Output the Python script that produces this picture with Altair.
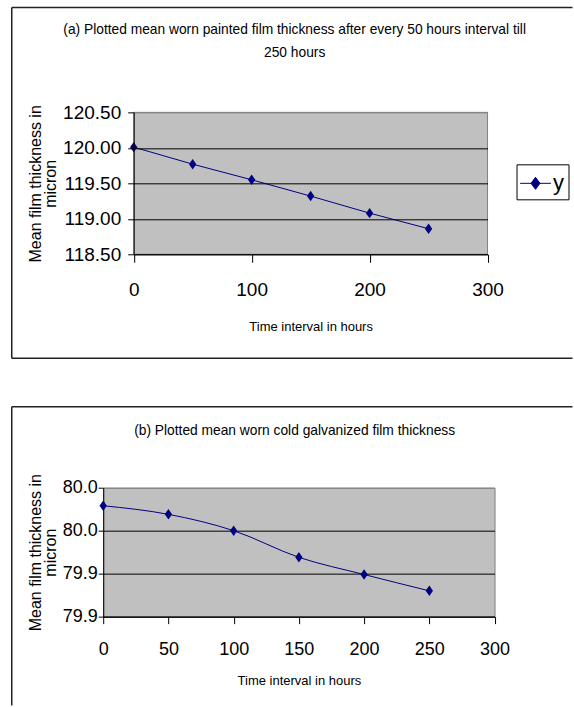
import altair as alt
import pandas as pd

# ---- data ----
hours = [0, 50, 100, 150, 200, 250]
painted = [120.01, 119.77, 119.55, 119.32, 119.08, 118.86]
galvanized = [79.979, 79.969, 79.950, 79.919, 79.899, 79.880]
series_name = "y"

ticks_a_x = [0, 100, 200, 300]
ticks_a_y = [118.5, 119.0, 119.5, 120.0, 120.5]
ticks_b_x = [0, 50, 100, 150, 200, 250, 300]
ticks_b_y = [79.85, 79.90, 79.95, 80.00]
x_domain = [0, 300]
ydom_a = [118.5, 120.5]
ydom_b = [79.85, 80.0]

title_a = ["(a) Plotted mean worn painted film thickness after every 50 hours interval till",
           "250 hours"]
title_b = ["(b) Plotted mean worn cold galvanized film thickness"]
x_title = "Time interval in hours"
y_title = ["Mean film thickness in", "micron"]

# ---- style ----
FONT = "Liberation Sans, Arial, sans-serif"
NAVY = "#000080"
FRAME = "#222222"
PLOT_BG = "#C0C0C0"
PLOT_BORDER = "#808080"
DIAMOND = "M0,-1L0.7,0L0,1L-0.7,0Z"
LEG_SYM = "M-1.1,0L1.1,0M0,-0.43L0.32,0L0,0.43L-0.32,0Z"

one = alt.Data(values=[{}])


def hrule(x, x2, y):
    return alt.Chart(one).mark_rule(color=FRAME, strokeWidth=1.5).encode(
        x=alt.value(x), x2=alt.value(x2), y=alt.value(y))


def vrule(x, y, y2):
    return alt.Chart(one).mark_rule(color=FRAME, strokeWidth=1.5).encode(
        x=alt.value(x), y=alt.value(y), y2=alt.value(y2))


def title_text(line, x, y, fs):
    return alt.Chart(one).mark_text(text=line, font=FONT, fontSize=fs, color="black",
                                    align="center", baseline="middle").encode(
        x=alt.value(x), y=alt.value(y))


def panel(values, W, H, x_range, yticks_, xticks_, ydom, ylab_fmt, top_grey, tick_fs,
          xtick, xlab_pad, ytick, ylab_pad, xtitle_y, ytitle_x, leg, interp, frame,
          titles, title_fs, own_bg):
    df = pd.DataFrame({"hours": hours, "value": values, "series": [series_name] * len(hours)})
    yoff = -x_range[0] if x_range else 0
    if x_range:
        xscale = alt.Scale(domain=x_domain, nice=False, zero=False, range=x_range)
    else:
        xscale = alt.Scale(domain=x_domain, nice=False, zero=False)
    z = 1 if own_bg else 0
    x = alt.X("hours:Q", scale=xscale,
              axis=alt.Axis(values=xticks_, grid=False, tickSize=xtick, tickColor="black",
                            domainColor="black", labelFont=FONT, labelFontSize=tick_fs,
                            labelColor="black", labelPadding=xlab_pad, labelFlush=False,
                            labelOverlap=False, title=x_title, titleFont=FONT,
                            titleFontSize=13, titleFontWeight="normal", titleColor="black",
                            titleY=xtitle_y, titleBaseline="middle", zindex=z))
    yaxis = dict(values=yticks_, grid=True,
                 gridColor={"condition": {"test": f"datum.value > {top_grey}", "value": PLOT_BORDER},
                            "value": "#000000"},
                 gridWidth=1, tickSize=ytick, tickColor="black", domainColor="black",
                 labelFont=FONT, labelFontSize=tick_fs, labelColor="black",
                 labelPadding=ylab_pad, labelFlush=False, labelOverlap=False,
                 title=y_title, titleFont=FONT, titleFontSize=16, titleFontWeight="normal",
                 titleColor="black", titleX=ytitle_x, titleY=H / 2, titleAngle=270,
                 titleBaseline="middle", titleAlign="center", titleLineHeight=15,
                 offset=yoff, zindex=z)
    if ylab_fmt.startswith("expr:"):
        yaxis["labelExpr"] = ylab_fmt[5:]
    else:
        yaxis["format"] = ylab_fmt
    y = alt.Y("value:Q", scale=alt.Scale(domain=ydom, nice=False, zero=False),
              axis=alt.Axis(**yaxis))
    legx, legy, lsize, lfs, lpad, loff = leg
    color = alt.Color("series:N", scale=alt.Scale(domain=[series_name], range=[NAVY]),
                      title=None,
                      legend=alt.Legend(orient="none", legendX=legx, legendY=legy,
                                        symbolType=LEG_SYM, symbolSize=lsize,
                                        symbolStrokeWidth=1, symbolFillColor=NAVY,
                                        symbolStrokeColor=NAVY,
                                        labelFont=FONT, labelFontSize=lfs, labelColor="black",
                                        labelOffset=loff, strokeColor="black", fillColor="white",
                                        padding=lpad))
    line = alt.Chart(df).mark_line(strokeWidth=1, interpolate=interp).encode(x=x, y=y, color=color)
    pts = alt.Chart(df).mark_point(shape=DIAMOND, size=110, filled=True, opacity=1,
                                   color=NAVY).encode(x=x, y=y)
    fl, ft, fb, fr, has_bottom = frame
    layers = []
    if own_bg:
        bg = pd.DataFrame({"hours": [x_domain[0]], "hours2": [x_domain[1]],
                           "value": [ydom[0]], "value2": [ydom[1]]})
        layers.append(alt.Chart(bg).mark_rect(fill=PLOT_BG, stroke=PLOT_BORDER, strokeWidth=1).encode(
            x=x, x2=alt.X2("hours2"), y=y, y2=alt.Y2("value2")))
    layers += [hrule(fl, fr, ft), vrule(fl, ft, fb)]
    if has_bottom:
        layers.append(hrule(fl, fr, fb))
    for (txt, tx, ty) in titles:
        layers.append(title_text(txt, tx, ty, title_fs))
    layers += [line, pts]
    if own_bg:
        view = alt.ViewBackground(fillOpacity=0, strokeOpacity=0)
    else:
        view = alt.ViewBackground(fill=PLOT_BG, stroke=PLOT_BORDER, strokeWidth=1)
    return alt.layer(*layers).properties(width=W, height=H, view=view)


# panel (a): view origin at the same x as panel (b), plot starts 30.5 px to the right
chart_a = panel(painted, 384.5, 142, [30.5, 384.5], ticks_a_y, ticks_a_x, ydom_a, ".2f", 120.4,
                19, 8, 18.5, 6, 7, 72, -98, (413.5, 52, 784, 22, 4.5, 3), "linear",
                (-91.5, -105, 246, 469.5, True),
                [(title_a[0], 191.5, -82), (title_a[1], 191.5, -59)], 13.8, True)

chart_b = panel(galvanized, 391.5, 129, None, ticks_b_y, ticks_b_x, ydom_b,
                "expr:format(datum.value + 0.001, '.1f')", 79.99,
                18, 7, 17, 5, 1, 64, -67.5, (418.5, 48, 676, 20, 3, 5), "monotone",
                (-91.5, -81, 218, 469.5, False),
                [(title_b[0], 191.5, -57)], 13.8, False)

chart = alt.concat(chart_a, chart_b, columns=1, spacing=45.5).properties(
    padding={"left": 10.25, "top": 6.25, "right": 0, "bottom": 0},
    background="white",
)

chart.save("out.html", embed_options={"renderer": "svg", "actions": False})
